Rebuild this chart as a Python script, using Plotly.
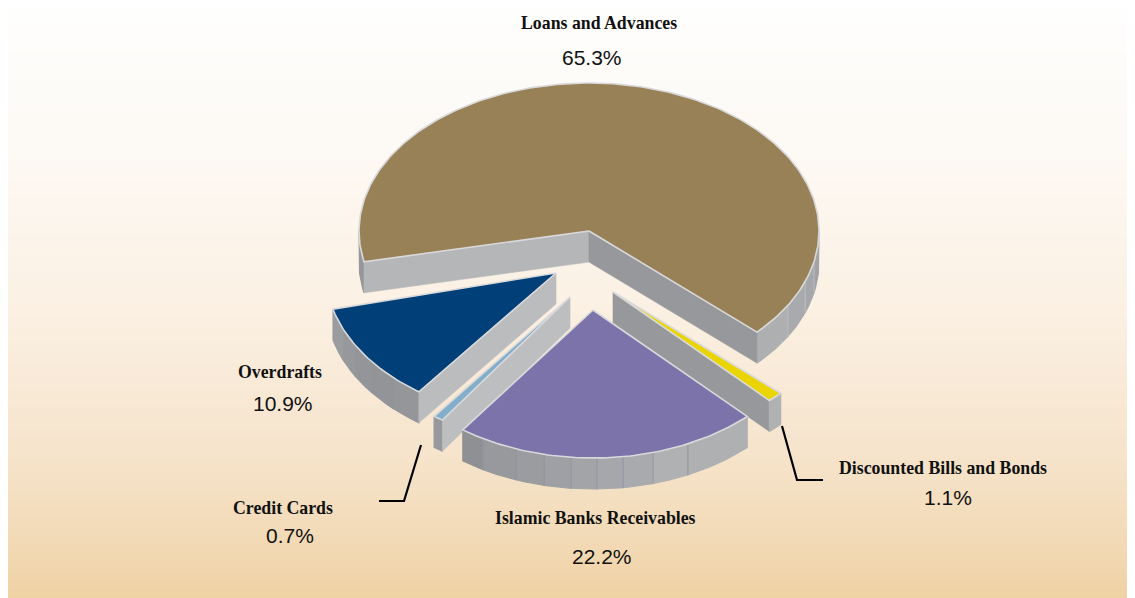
import math
import plotly.graph_objects as go

# ---- data ----
categories = ["Loans and Advances", "Discounted Bills and Bonds", "Islamic Banks Receivables", "Credit Cards", "Overdrafts"]
values = [65.3, 1.1, 22.2, 0.7, 10.9]
colors = ["#998157", "#EAD500", "#7B73AA", "#82AEC9", "#003F78"]

# ---- drawing layout of the exploded pie ----
start_deg = [258.0, 133.2, 136.0, 213.7, 216.6]
apex_x = [589, 613, 593, 570, 556]
apex_y = [231, 292, 310, 297, 273]
radius_x = [230, 230, 222, 230, 230]
RY = 148
DEPTH = 31
EDGE = "#D9D9DB"

label_x = [599, 943, 595, 283, 280]
label_y = [23, 468, 518, 508, 372]
pct_x = [592, 948, 602, 290, 283]
pct_y = [57, 497, 556, 535, 403]

grad_pos = [8, 150, 300, 450, 540, 598]
grad_col = ["#FEFEFD", "#FDF9F4", "#FBF1E4", "#F6E4CC", "#F2DAB6", "#EFD2A4"]

islamic_seams = [215.9, 209.7, 200.3, 192.7, 185.7, 179.0, 172.2, 164.3, 154.7, 136.0]
islamic_wall = ["#8F9093", "#98999C", "#9B9C9F", "#9FA0A3", "#A3A4A7", "#A6A7AA", "#A9AAAD", "#B0B1B3", "#AFB0B2"]
loans_seams = [133.1, 120.1, 110.0, 102.0, 90.0]
loans_wall = ["#AEAFB1", "#A9AAAD", "#A6A7AA", "#A2A3A6"]
over_seams = [216.6, 225.0, 233.0, 241.0, 248.0, 255.8]
over_wall = ["#95969A", "#939498", "#949599", "#97989B", "#9B9C9F"]

conn_x = [[782, 797, 823], [421, 404, 379]]
conn_y = [[426, 480, 480], [445, 501, 501]]

fig = go.Figure()


def poly(xs, ys, fill, line=None, width=1.2):
    fig.add_trace(go.Scatter(
        x=xs, y=ys, mode="lines", fill="toself", fillcolor=fill,
        line=dict(color=line or fill, width=width),
        hoverinfo="skip", showlegend=False))


def pt(i, th, dz=0.0):
    r = math.radians(th)
    return apex_x[i] + radius_x[i] * math.sin(r), apex_y[i] - RY * math.cos(r) + dz


def arc(i, a, b, dz=0.0):
    n = max(2, int(abs(b - a) / 1.0) + 1)
    return [pt(i, a + (b - a) * k / (n - 1), dz) for k in range(n)]


def wall(i, a, b, fill):
    pts = arc(i, a, b) + arc(i, b, a, DEPTH)
    pts.append(pts[0])
    poly([p[0] for p in pts], [p[1] for p in pts], fill)


def seam(i, th, color):
    p, q = pt(i, th), pt(i, th, DEPTH)
    fig.add_trace(go.Scatter(x=[p[0], q[0]], y=[p[1], q[1]], mode="lines",
                             line=dict(color=color, width=0.9),
                             hoverinfo="skip", showlegend=False))


def cut(i, th, fill):
    p = pt(i, th)
    xs = [apex_x[i], p[0], p[0], apex_x[i], apex_x[i]]
    ys = [apex_y[i], p[1], p[1] + DEPTH, apex_y[i] + DEPTH, apex_y[i]]
    poly(xs, ys, fill, width=0.6)


def top(i):
    s = start_deg[i]
    e = s + values[i] * 3.6
    pts = [(apex_x[i], apex_y[i])] + arc(i, s, e)
    pts.append(pts[0])
    poly([p[0] for p in pts], [p[1] for p in pts], colors[i], EDGE, 1.6)


# background gradient
rows = list(range(8, 599, 2))
span = grad_pos[-1] - grad_pos[0]
fig.add_trace(go.Heatmap(
    x=[8, 1135], y=rows, z=[[r, r] for r in rows], zmin=8, zmax=598,
    colorscale=[[(p - grad_pos[0]) / span, c] for p, c in zip(grad_pos, grad_col)],
    showscale=False, hoverinfo="skip"))

# loans
wall(0, 258.0, 270.0, "#96979A")
for k, c in enumerate(loans_wall):
    wall(0, loans_seams[k], loans_seams[k + 1], c)
for th in loans_seams[1:-1]:
    seam(0, th, "#C2C3C5")
cut(0, 258.0, "#B5B6B8")
cut(0, 133.1, "#97989B")
top(0)

# discounted bills
cut(1, 137.16, "#97989B")
wall(1, 133.2, 137.16, "#B0B1B3")
top(1)

# overdrafts
for k, c in enumerate(over_wall):
    wall(4, over_seams[k], over_seams[k + 1], c)
cut(4, 216.6, "#BBBCBE")
top(4)

# credit cards
wall(3, 213.7, 216.22, "#97989B")
cut(3, 213.7, "#BDBEC0")
top(3)

# islamic banks
for k, c in enumerate(islamic_wall):
    wall(2, islamic_seams[k], islamic_seams[k + 1], c)
for th in islamic_seams[1:-1]:
    seam(2, th, "#8E92A0")
top(2)

for xs, ys in zip(conn_x, conn_y):
    fig.add_trace(go.Scatter(x=xs, y=ys, mode="lines", line=dict(color="#000000", width=2.2),
                             hoverinfo="skip", showlegend=False))

for i, name in enumerate(categories):
    fig.add_annotation(x=label_x[i], y=label_y[i], text="<b>%s</b>" % name, showarrow=False,
                       font=dict(family="Liberation Serif", size=17.8, color="#111111"))
    fig.add_annotation(x=pct_x[i], y=pct_y[i], text="%.1f%%" % values[i], showarrow=False,
                       font=dict(family="Liberation Sans", size=21, color="#111111"))

fig.update_layout(
    width=1127, height=590, margin=dict(l=0, r=0, t=0, b=0),
    paper_bgcolor="#FFFFFF", plot_bgcolor="#FFFFFF", showlegend=False,
    xaxis=dict(range=[8, 1135], visible=False, fixedrange=True),
    yaxis=dict(range=[598, 8], visible=False, fixedrange=True),
)
fig.write_html("out.html", config={"displayModeBar": False})
